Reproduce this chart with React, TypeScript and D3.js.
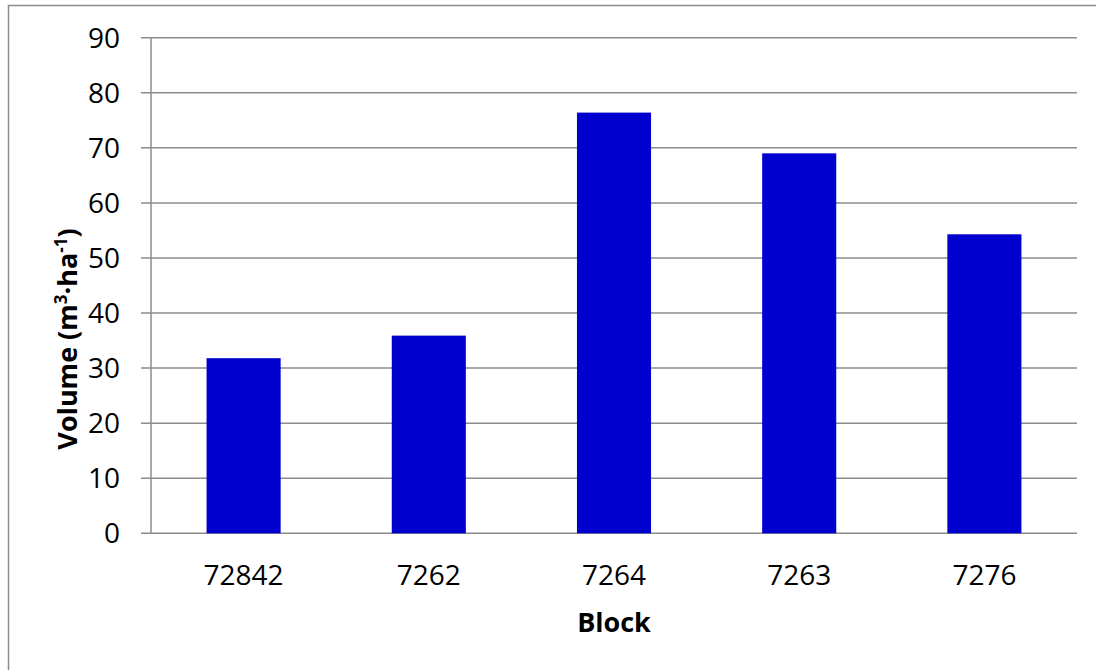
import React, { useEffect, useRef } from "react";
import * as d3 from "d3";

// Stand volume per block
const blocks: string[] = ["72842", "7262", "7264", "7263", "7276"];
const volumes: number[] = [31.8, 35.9, 76.4, 69.0, 54.3];
const yTicks: number[] = [0, 10, 20, 30, 40, 50, 60, 70, 80, 90];

const W = 1096;
const H = 670;
const FONT = "'Open Sans', 'Liberation Sans', sans-serif";

export default function App() {
  const ref = useRef<SVGSVGElement>(null);

  useEffect(() => {
    const svg = d3.select(ref.current);
    svg.selectAll("*").remove();

    const left = 151;
    const right = 1077;
    const top = 37.7;
    const bottom = 533.3;

    const x = d3.scaleBand<string>().domain(blocks).range([left, right]).paddingInner(0.6).paddingOuter(0.3);
    const y = d3.scaleLinear().domain([0, 90]).range([bottom, top]);

    // outer chart frame
    svg.append("rect")
      .attr("x", 8.5).attr("y", 5.5)
      .attr("width", W + 20).attr("height", H + 20)
      .attr("fill", "none").attr("stroke", "#8c8c8c").attr("stroke-width", 1.5);

    // horizontal gridlines + tick marks
    const g = svg.append("g");
    g.selectAll("line.grid")
      .data(yTicks)
      .join("line")
      .attr("class", "grid")
      .attr("x1", left - 10).attr("x2", right)
      .attr("y1", (d) => y(d)).attr("y2", (d) => y(d))
      .attr("stroke", "#8c8c8c").attr("stroke-width", 1.5);

    // y axis line
    svg.append("line")
      .attr("x1", left).attr("x2", left)
      .attr("y1", top).attr("y2", bottom)
      .attr("stroke", "#8c8c8c").attr("stroke-width", 1.5);

    // bars
    svg.append("g").selectAll("rect")
      .data(blocks)
      .join("rect")
      .attr("x", (d) => x(d)!)
      .attr("width", x.bandwidth())
      .attr("y", (_, i) => y(volumes[i]))
      .attr("height", (_, i) => y(0) - y(volumes[i]))
      .attr("fill", "#0000cf");

    // y tick labels
    svg.append("g").selectAll("text")
      .data(yTicks)
      .join("text")
      .attr("x", 120)
      .attr("y", (d) => y(d))
      .attr("dy", "0.35em")
      .attr("text-anchor", "end")
      .attr("font-family", FONT)
      .attr("font-size", 28)
      .attr("fill", "#000")
      .text((d) => String(d));

    // x tick labels
    svg.append("g").selectAll("text")
      .data(blocks)
      .join("text")
      .attr("x", (d) => x(d)! + x.bandwidth() / 2)
      .attr("y", 585)
      .attr("text-anchor", "middle")
      .attr("font-family", FONT)
      .attr("font-size", 28)
      .attr("fill", "#000")
      .text((d) => d);

    // x axis title
    svg.append("text")
      .attr("x", 614)
      .attr("y", 632)
      .attr("text-anchor", "middle")
      .attr("font-family", FONT)
      .attr("font-size", 27)
      .attr("font-weight", "bold")
      .text("Block");

    // y axis title with superscripts
    const yt = svg.append("text")
      .attr("transform", "translate(77,339) rotate(-90)")
      .attr("text-anchor", "middle")
      .attr("font-family", FONT)
      .attr("font-size", 27)
      .attr("font-weight", "bold");
    yt.append("tspan").text("Volume (m");
    yt.append("tspan").attr("dy", -10).attr("font-size", 17).text("3");
    yt.append("tspan").attr("dy", 10).text("·ha");
    yt.append("tspan").attr("dy", -10).attr("font-size", 17).text("-1");
    yt.append("tspan").attr("dy", 10).text(")");
  }, []);

  return (
    <div style={{ position: "absolute", left: 0, top: 0, width: W, height: H, background: "#fff" }}>
      <svg ref={ref} width={W} height={H} style={{ display: "block" }} />
    </div>
  );
}
